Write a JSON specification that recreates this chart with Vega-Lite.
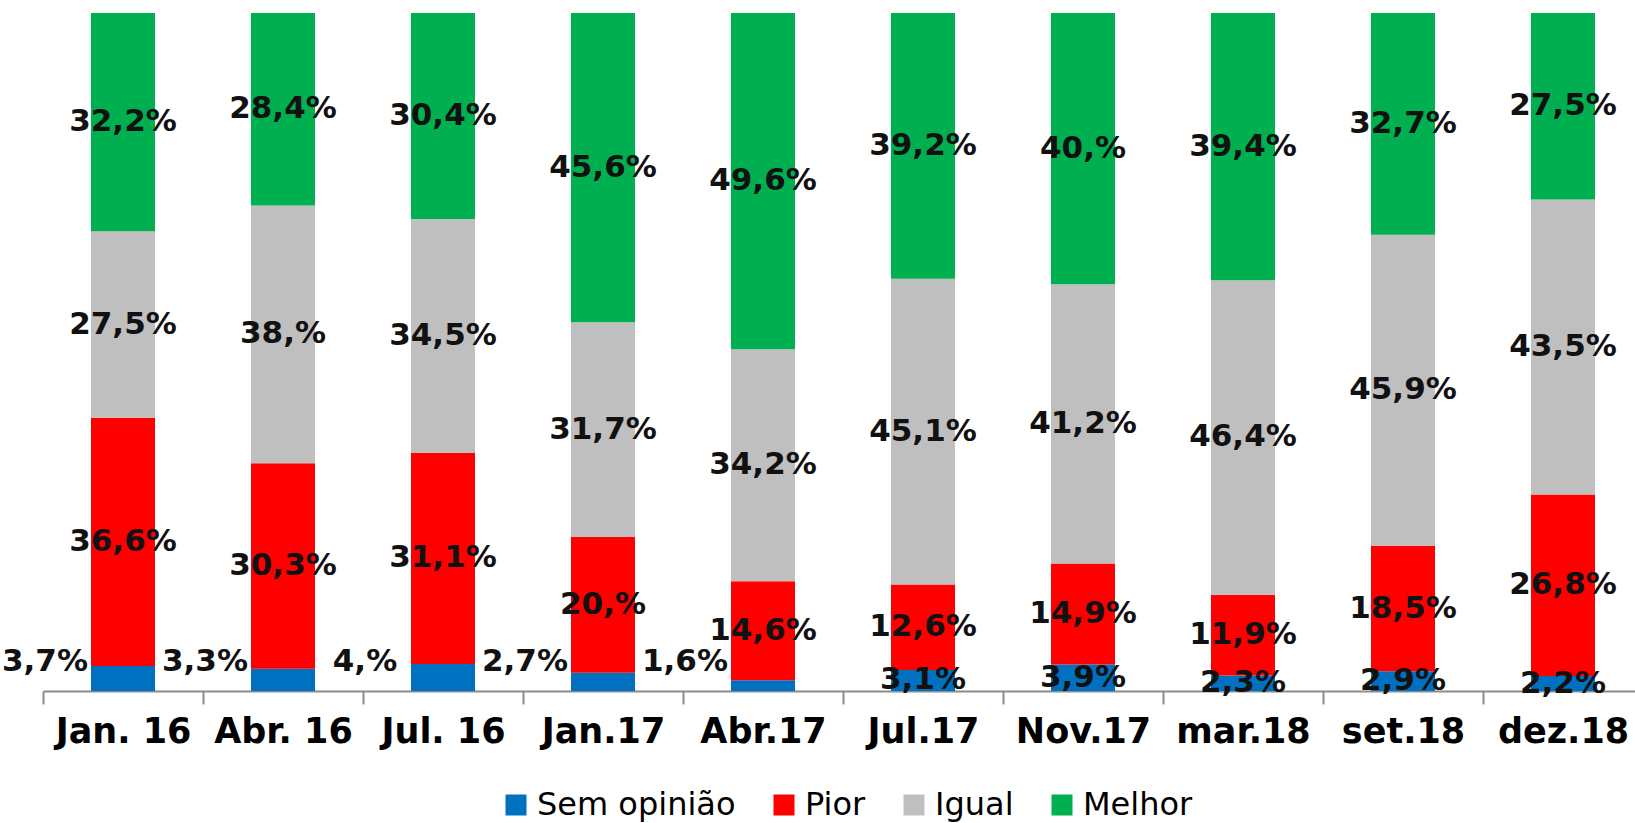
{
  "$schema": "https://vega.github.io/schema/vega-lite/v6.json",
  "autosize": {"type": "none"},
  "padding": {"left": 43, "top": 13, "right": 0, "bottom": 132},
  "width": 1592,
  "height": 678,
  "background": "white",
  "config": {"view": {"stroke": null}, "font": "DejaVu Sans"},
  "data": {"values": [
    {"p": "Jan. 16", "cat": "Sem opinião", "k": 1, "v": 3.7, "lbl": "3,7%"},
    {"p": "Jan. 16", "cat": "Pior", "k": 2, "v": 36.6, "lbl": "36,6%"},
    {"p": "Jan. 16", "cat": "Igual", "k": 3, "v": 27.5, "lbl": "27,5%"},
    {"p": "Jan. 16", "cat": "Melhor", "k": 4, "v": 32.2, "lbl": "32,2%"},
    {"p": "Abr. 16", "cat": "Sem opinião", "k": 1, "v": 3.3, "lbl": "3,3%"},
    {"p": "Abr. 16", "cat": "Pior", "k": 2, "v": 30.3, "lbl": "30,3%"},
    {"p": "Abr. 16", "cat": "Igual", "k": 3, "v": 38.0, "lbl": "38,%"},
    {"p": "Abr. 16", "cat": "Melhor", "k": 4, "v": 28.4, "lbl": "28,4%"},
    {"p": "Jul. 16", "cat": "Sem opinião", "k": 1, "v": 4.0, "lbl": "4,%"},
    {"p": "Jul. 16", "cat": "Pior", "k": 2, "v": 31.1, "lbl": "31,1%"},
    {"p": "Jul. 16", "cat": "Igual", "k": 3, "v": 34.5, "lbl": "34,5%"},
    {"p": "Jul. 16", "cat": "Melhor", "k": 4, "v": 30.4, "lbl": "30,4%"},
    {"p": "Jan.17", "cat": "Sem opinião", "k": 1, "v": 2.7, "lbl": "2,7%"},
    {"p": "Jan.17", "cat": "Pior", "k": 2, "v": 20.0, "lbl": "20,%"},
    {"p": "Jan.17", "cat": "Igual", "k": 3, "v": 31.7, "lbl": "31,7%"},
    {"p": "Jan.17", "cat": "Melhor", "k": 4, "v": 45.6, "lbl": "45,6%"},
    {"p": "Abr.17", "cat": "Sem opinião", "k": 1, "v": 1.6, "lbl": "1,6%"},
    {"p": "Abr.17", "cat": "Pior", "k": 2, "v": 14.6, "lbl": "14,6%"},
    {"p": "Abr.17", "cat": "Igual", "k": 3, "v": 34.2, "lbl": "34,2%"},
    {"p": "Abr.17", "cat": "Melhor", "k": 4, "v": 49.6, "lbl": "49,6%"},
    {"p": "Jul.17", "cat": "Sem opinião", "k": 1, "v": 3.1, "lbl": "3,1%"},
    {"p": "Jul.17", "cat": "Pior", "k": 2, "v": 12.6, "lbl": "12,6%"},
    {"p": "Jul.17", "cat": "Igual", "k": 3, "v": 45.1, "lbl": "45,1%"},
    {"p": "Jul.17", "cat": "Melhor", "k": 4, "v": 39.2, "lbl": "39,2%"},
    {"p": "Nov.17", "cat": "Sem opinião", "k": 1, "v": 3.9, "lbl": "3,9%"},
    {"p": "Nov.17", "cat": "Pior", "k": 2, "v": 14.9, "lbl": "14,9%"},
    {"p": "Nov.17", "cat": "Igual", "k": 3, "v": 41.2, "lbl": "41,2%"},
    {"p": "Nov.17", "cat": "Melhor", "k": 4, "v": 40.0, "lbl": "40,%"},
    {"p": "mar.18", "cat": "Sem opinião", "k": 1, "v": 2.3, "lbl": "2,3%"},
    {"p": "mar.18", "cat": "Pior", "k": 2, "v": 11.9, "lbl": "11,9%"},
    {"p": "mar.18", "cat": "Igual", "k": 3, "v": 46.4, "lbl": "46,4%"},
    {"p": "mar.18", "cat": "Melhor", "k": 4, "v": 39.4, "lbl": "39,4%"},
    {"p": "set.18", "cat": "Sem opinião", "k": 1, "v": 2.9, "lbl": "2,9%"},
    {"p": "set.18", "cat": "Pior", "k": 2, "v": 18.5, "lbl": "18,5%"},
    {"p": "set.18", "cat": "Igual", "k": 3, "v": 45.9, "lbl": "45,9%"},
    {"p": "set.18", "cat": "Melhor", "k": 4, "v": 32.7, "lbl": "32,7%"},
    {"p": "dez.18", "cat": "Sem opinião", "k": 1, "v": 2.2, "lbl": "2,2%"},
    {"p": "dez.18", "cat": "Pior", "k": 2, "v": 26.8, "lbl": "26,8%"},
    {"p": "dez.18", "cat": "Igual", "k": 3, "v": 43.5, "lbl": "43,5%"},
    {"p": "dez.18", "cat": "Melhor", "k": 4, "v": 27.5, "lbl": "27,5%"}
  ]},
  "layer": [
    {
      "mark": {"type": "bar"},
      "encoding": {
        "x": {
          "field": "p", "type": "nominal", "sort": null,
          "scale": {"range": [0, 1600], "paddingInner": 0.6, "paddingOuter": 0.3},
          "axis": {
            "title": null, "labelAngle": 0, "labelFont": "DejaVu Sans", "labelFontSize": 35,
            "labelFontWeight": "bold", "labelColor": "#000000", "labelBaseline": "alphabetic",
            "labelPadding": 38, "ticks": true, "tickSize": 13, "tickOffset": -80, "labelOffset": 80, "domainColor": "#8c8c8c",
            "tickColor": "#8c8c8c", "domainWidth": 2, "tickWidth": 2, "tickOpacity": 1, "labelOverlap": false,
            "labelBound": false, "labelLimit": 0
          }
        },
        "y": {"field": "v", "type": "quantitative", "stack": "zero", "scale": {"domain": [0, 100], "nice": false}, "axis": null},
        "color": {
          "field": "cat", "type": "nominal",
          "scale": {"domain": ["Sem opinião", "Pior", "Igual", "Melhor"], "range": ["#0070C0", "#FF0000", "#BFBFBF", "#00B050"]},
          "legend": {
            "orient": "none", "legendX": 457, "legendY": 776, "direction": "horizontal", "title": null, "symbolType": "square",
            "symbolSize": 441, "symbolStrokeWidth": 0, "labelFont": "DejaVu Sans", "labelFontSize": 32,
            "labelColor": "#000000", "labelOffset": 5, "columnPadding": 32, "labelLimit": 0
          }
        },
        "order": {"field": "k", "type": "quantitative", "sort": "ascending"}
      }
    },
    {
      "mark": {"type": "text", "fontSize": 31, "fontWeight": "bold", "color": "#111111", "font": "DejaVu Sans"},
      "encoding": {
        "x": {"field": "p", "type": "nominal", "sort": null},
        "y": {"field": "v", "type": "quantitative", "stack": "zero", "bandPosition": 0.5},
        "detail": {"field": "cat"},
        "order": {"field": "k", "type": "quantitative", "sort": "ascending"},
        "text": {
          "condition": {"test": "datum.cat === 'Sem opinião' && indexof(['Jan. 16','Abr. 16','Jul. 16','Jan.17','Abr.17'], datum.p) >= 0", "value": ""},
          "field": "lbl"
        }
      }
    },
    {
      "mark": {"type": "text", "fontSize": 31, "fontWeight": "bold", "color": "#111111", "font": "DejaVu Sans", "dy": -29, "dx": -46},
      "encoding": {
        "x": {"field": "p", "type": "nominal", "sort": null, "bandPosition": 0},
        "y": {"datum": 0, "type": "quantitative"},
        "text": {
          "condition": {"test": "datum.cat === 'Sem opinião' && indexof(['Jan. 16','Abr. 16','Jul. 16','Jan.17','Abr.17'], datum.p) >= 0", "field": "lbl"},
          "value": ""
        }
      }
    }
  ]
}
